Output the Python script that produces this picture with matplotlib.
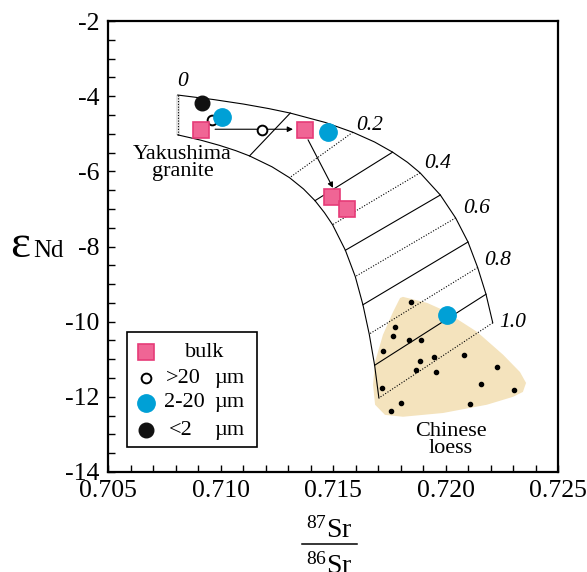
import matplotlib
matplotlib.use('Agg')
import matplotlib.pyplot as plt
from matplotlib.patches import Rectangle
from matplotlib.lines import Line2D

plt.rcParams['font.family'] = ['Liberation Serif', 'DejaVu Serif']
plt.rcParams['mathtext.fontset'] = 'custom'
plt.rcParams['mathtext.rm'] = 'Liberation Serif'
plt.rcParams['axes.unicode_minus'] = False

# mixing curves (Yakushima granite -> Chinese loess)
mix_frac = [0, 0.025, 0.05, 0.075, 0.1, 0.15, 0.2, 0.25, 0.3, 0.35, 0.4, 0.5, 0.6, 0.7, 0.8, 0.9, 1.0]
upper_x = [0.7081, 0.70969, 0.71102, 0.71214, 0.7131, 0.71466, 0.71588, 0.71685, 0.71765,
           0.71831, 0.71887, 0.71977, 0.72045, 0.7210, 0.72143, 0.7218, 0.7221]
upper_y = [-3.97, -4.09, -4.21, -4.33, -4.45, -4.70, -4.96, -5.22, -5.49,
           -5.76, -6.04, -6.63, -7.24, -7.88, -8.56, -9.27, -10.03]
lower_x = [0.7081, 0.70912, 0.70996, 0.71068, 0.71129, 0.71229, 0.71307, 0.71369, 0.7142,
           0.71462, 0.71498, 0.71555, 0.71599, 0.71633, 0.71661, 0.71685, 0.71704]
lower_y = [-5.03, -5.17, -5.31, -5.45, -5.59, -5.88, -6.17, -6.47, -6.78,
           -7.10, -7.42, -8.10, -8.80, -9.55, -10.33, -11.16, -12.03]

frac_labels = ['0', '0.2', '0.4', '0.6', '0.8', '1.0']
frac_label_x = [0.70833, 0.71664, 0.71967, 0.7214, 0.72233, 0.7230]
frac_label_y = [-3.62, -4.77, -5.80, -7.00, -8.36, -10.01]

# Chinese loess field and samples
loess_x = [0.71811, 0.71918, 0.71989, 0.7214, 0.72256, 0.72331, 0.72358, 0.72344, 0.723,
           0.72184, 0.71989, 0.71811, 0.71731, 0.71687, 0.71678, 0.71687, 0.71722, 0.71767, 0.71798]
loess_y = [-9.34, -9.50, -9.69, -10.27, -10.88, -11.34, -11.63, -11.87, -12.0,
           -12.21, -12.43, -12.53, -12.48, -12.21, -11.68, -11.07, -10.35, -9.74, -9.37]
dots_x = [0.71847, 0.71776, 0.71767, 0.71838, 0.71891, 0.71722, 0.71887, 0.71949, 0.72082,
          0.71869, 0.71958, 0.72229, 0.72158, 0.72304, 0.71718, 0.71802, 0.71758, 0.72109]
dots_y = [-9.47, -10.14, -10.38, -10.48, -10.48, -10.78, -11.04, -10.94, -10.88,
          -11.28, -11.34, -11.20, -11.65, -11.81, -11.76, -12.16, -12.37, -12.19]

# samples
bulk_x = [0.70913, 0.71376, 0.71496, 0.71562]
bulk_y = [-4.90, -4.90, -6.68, -7.00]
coarse_x = [0.70962, 0.71184]
coarse_y = [-4.63, -4.90]
mid_x = [0.71007, 0.71478, 0.72007]
mid_y = [-4.55, -4.95, -9.82]
fine_x = [0.70918]
fine_y = [-4.18]

pink = '#F06595'
pink_edge = '#E63B78'
blue = '#00A0D6'
tan = '#F4E3BD'

fig = plt.figure(figsize=(5.87, 5.72), dpi=100)
ax = fig.add_axes([108 / 587, 1 - 472 / 572, 450 / 587, 451 / 572])

# loess field
ax.fill(loess_x, loess_y, color=tan, lw=0, zorder=1)

# mixing band
ax.plot(upper_x, upper_y, color='black', lw=0.8, zorder=2)
ax.plot(lower_x, lower_y, color='black', lw=0.8, zorder=2)
ax.fill_betweenx([lower_y[0], upper_y[0]], 0.70802, 0.70822, color='#E4E4E4', lw=0, zorder=1)
ax.plot([upper_x[0], lower_x[0]], [upper_y[0], lower_y[0]], color='black', lw=0.8,
        linestyle=(0, (1, 1.5)), zorder=2)
for i, f in enumerate(mix_frac):
    tenth = round(f * 10)
    if f == 0 or abs(f * 10 - tenth) > 1e-6:
        continue
    ls = '-' if tenth % 2 else (0, (1, 1.5))
    ax.plot([upper_x[i], lower_x[i]], [upper_y[i], lower_y[i]], color='black',
            lw=0.8, linestyle=ls, zorder=2)

for lab, lx, ly in zip(frac_labels, frac_label_x, frac_label_y):
    ax.text(lx, ly, lab, fontsize=15.5, style='italic', ha='center', va='center')

ax.scatter(dots_x, dots_y, s=9, color='black', zorder=3)

# arrows
ax.annotate('', xy=(0.71322, -4.88), xytext=(0.70976, -4.88),
            arrowprops=dict(arrowstyle='-|>', lw=0.8, color='black', mutation_scale=8,
                            shrinkA=0, shrinkB=0), zorder=4)
ax.annotate('', xy=(0.7150, -6.44), xytext=(0.71389, -5.16),
            arrowprops=dict(arrowstyle='-|>', lw=0.8, color='black', mutation_scale=8,
                            shrinkA=0, shrinkB=0), zorder=4)

ax.plot(coarse_x, coarse_y, 'o', ms=7, mfc='white', mec='black', mew=1.4, ls='none', zorder=5)
ax.plot(bulk_x, bulk_y, 's', ms=11, mfc=pink, mec=pink_edge, mew=1.2, ls='none', zorder=6)
ax.plot(mid_x, mid_y, 'o', ms=12.5, mfc=blue, mec=blue, ls='none', zorder=7)
ax.plot(fine_x, fine_y, 'o', ms=10.5, mfc='#111111', mec='#111111', ls='none', zorder=7)

ax.text(0.70831, -5.79, 'Yakushima\ngranite', fontsize=16, ha='center', va='center',
        linespacing=0.85)
ax.text(0.72024, -13.15, 'Chinese\nloess', fontsize=16, ha='center', va='center',
        linespacing=0.8)

# legend drawn in axes coordinates
ax.add_patch(Rectangle((0.0422, 0.0554), 0.2888, 0.2546, transform=ax.transAxes,
                       fill=False, lw=1.2, ec='black', zorder=8))
ax.plot([0.0844], [0.266], 's', ms=11, mfc=pink, mec=pink_edge, mew=1.2,
        transform=ax.transAxes, zorder=9)
ax.plot([0.0844], [0.208], 'o', ms=7, mfc='white', mec='black', mew=1.4,
        transform=ax.transAxes, zorder=9)
ax.plot([0.0844], [0.153], 'o', ms=12.5, mfc=blue, mec=blue, transform=ax.transAxes, zorder=9)
ax.plot([0.0844], [0.093], 'o', ms=10.5, mfc='#111111', mec='#111111',
        transform=ax.transAxes, zorder=9)
ax.text(0.2156, 0.266, 'bulk', fontsize=16, ha='center', va='center', transform=ax.transAxes)
for txt, yy, xx in [('>20', 0.208, 0.167), ('2-20', 0.153, 0.169), ('<2', 0.093, 0.162)]:
    ax.text(xx, yy, txt, fontsize=16, ha='center', va='center', transform=ax.transAxes)
    ax.text(0.269, yy, 'µm', fontsize=16, ha='center', va='center', transform=ax.transAxes)

ax.set_xlim(0.705, 0.725)
ax.set_ylim(-14, -2)
ax.set_xticks([0.705, 0.710, 0.715, 0.720, 0.725])
ax.set_xticklabels(['0.705', '0.710', '0.715', '0.720', '0.725'])
ax.set_xticks([0.705 + 0.001 * i for i in range(21)], minor=True)
ax.set_yticks([-14, -12, -10, -8, -6, -4, -2])
ax.set_yticks([-14 + 0.5 * i for i in range(25)], minor=True)
ax.tick_params(which='both', direction='in', length=5, width=1, labelsize=18.5, pad=6)
for sp in ax.spines.values():
    sp.set_linewidth(1.6)

# axis labels
fig.text(0.017, 0.5507, 'ε', fontsize=34, va='baseline', ha='left')
fig.text(0.0562, 0.5507, 'Nd', fontsize=18, va='baseline', ha='left')
fig.text(0.5605, 0.0594, r'$\mathregular{^{87}}$Sr', fontsize=20, ha='center', va='baseline')
fig.add_artist(Line2D([0.5145, 0.608], [0.049, 0.049], color='black', lw=1.1,
                      transform=fig.transFigure))
fig.text(0.5605, -0.0035, r'$\mathregular{^{86}}$Sr', fontsize=20, ha='center', va='baseline')

fig.savefig('out.png', dpi=100)
